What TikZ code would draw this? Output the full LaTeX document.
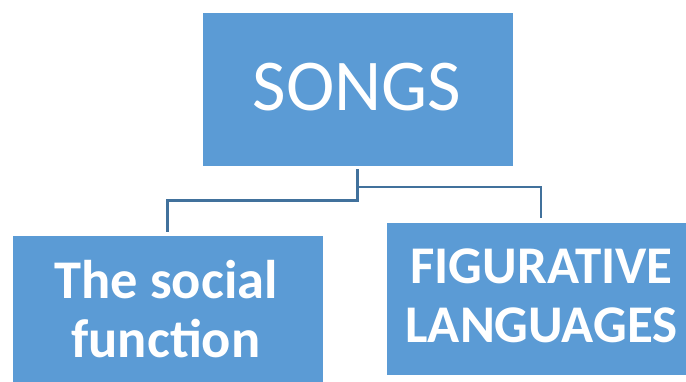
\documentclass[tikz,border=0pt]{standalone}
\usepackage{fontspec}
\setmainfont{Carlito}
\definecolor{boxblue}{HTML}{5B9BD5}
\definecolor{linkblue}{HTML}{41719C}
\begin{document}
\begin{tikzpicture}[x=1pt,y=1pt,
  box/.style={draw=white,line width=0.8pt,fill=boxblue,inner sep=0pt,anchor=center},
  lbl/.style={text=white,inner sep=0pt,align=center,anchor=center},
  conn/.style={draw=linkblue,line width=2.4pt}]
\useasboundingbox (0,0) rectangle (686,381);
\clip (0,0) rectangle (686,381);
\node[box,minimum width=311pt,minimum height=154pt] (top) at (357.5,292) {};
\node[box,minimum width=311pt,minimum height=148pt] (left) at (167.5,72) {};
\node[box,minimum width=310pt,minimum height=153pt] (right) at (541,82.5) {};
\node[lbl,font=\fontsize{73}{80}\selectfont] (ttop) at (357,294.3) {SONGS};
\node[lbl,font=\bfseries\fontsize{54.5}{58.3}\selectfont] (tleft) at (166,72) {The social\\function};
\node[lbl,font=\bfseries\fontsize{53}{59}\selectfont] (tright) at (541.5,85.2) {FIGURATIVE\\LANGUAGES};
\draw[conn] ([yshift=-3pt]top.south) -- ++(0,-31) -| ([yshift=3pt]left.north);
\draw[conn] ([yshift=-3pt]top.south) -- ++(0,-17.7) -| ([yshift=4pt]right.north);
\end{tikzpicture}
\end{document}
